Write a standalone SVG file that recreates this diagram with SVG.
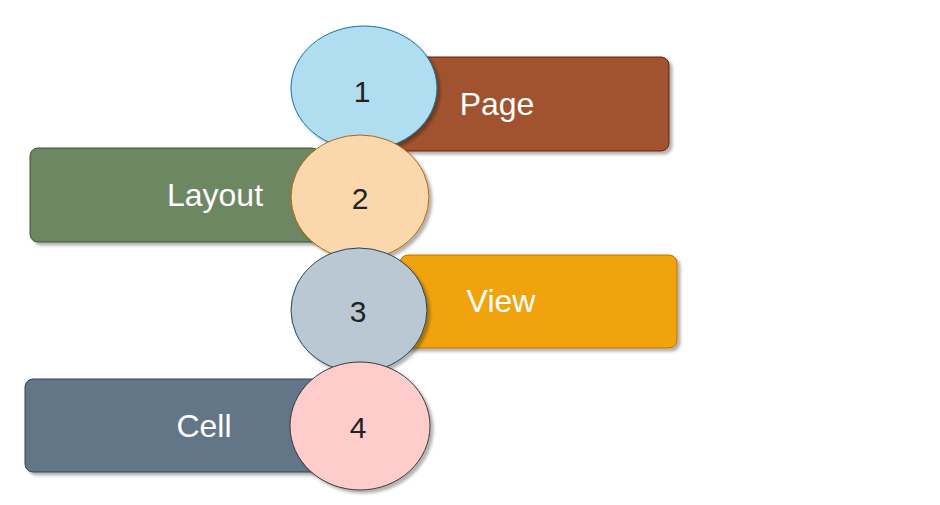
<svg xmlns="http://www.w3.org/2000/svg" width="940" height="505" viewBox="0 0 940 505">
<defs>
<filter id="sh" x="-10%" y="-10%" width="130%" height="130%">
<feDropShadow dx="3" dy="3" stdDeviation="1.5" flood-color="#000" flood-opacity="0.3"/>
</filter>
<filter id="rough" x="-5%" y="-5%" width="115%" height="120%">
<feTurbulence type="fractalNoise" baseFrequency="0.03" numOctaves="1" seed="5" result="n"/>
<feDisplacementMap in="SourceGraphic" in2="n" scale="2" xChannelSelector="R" yChannelSelector="G" result="d"/>
<feDropShadow in="d" dx="3" dy="3" stdDeviation="1.5" flood-color="#000" flood-opacity="0.3"/>
</filter>
<style>
.bar{stroke-width:1;filter:url(#rough)}
.circ{stroke-width:1;filter:url(#sh)}
.lbl{font-family:"Liberation Sans",Arial,sans-serif;font-size:32px;fill:#ffffff;text-anchor:middle}
.num{font-family:"Liberation Sans",Arial,sans-serif;font-size:30px;fill:#222222;text-anchor:middle}
</style>
</defs>
<g id="connectors"/>
<g id="page">
<rect class="bar" x="395" y="57" width="274" height="94" rx="8" fill="#A0522D" stroke="#6D1F00"/>
<text class="lbl" x="497" y="115">Page</text>
</g>
<g id="n1">
<ellipse class="circ" cx="364" cy="88" rx="73" ry="62" fill="#B1DDF0" stroke="#10739E"/>
<text class="num" x="362" y="102">1</text>
</g>
<g id="layout">
<rect class="bar" x="30" y="148" width="290" height="94" rx="8" fill="#6D8764" stroke="#3A5431"/>
<text class="lbl" x="215" y="206">Layout</text>
</g>
<g id="n2">
<ellipse class="circ" cx="360" cy="197" rx="69" ry="62" fill="#FAD7AC" stroke="#B46504"/>
<text class="num" x="360" y="209">2</text>
</g>
<g id="view">
<rect class="bar" x="400" y="255" width="277" height="93" rx="8" fill="#F0A30A" stroke="#BD7000"/>
<text class="lbl" x="501" y="312">View</text>
</g>
<g id="n3">
<ellipse class="circ" cx="359" cy="310" rx="68" ry="62" fill="#BAC8D3" stroke="#23445D"/>
<text class="num" x="358" y="322">3</text>
</g>
<g id="cell">
<rect class="bar" x="25" y="379" width="295" height="93" rx="8" fill="#647687" stroke="#314354"/>
<text class="lbl" x="204" y="437">Cell</text>
</g>
<g id="n4">
<ellipse class="circ" cx="360" cy="426" rx="70" ry="64" fill="#FFCCCC" stroke="#36393D"/>
<text class="num" x="358" y="438">4</text>
</g>
</svg>
